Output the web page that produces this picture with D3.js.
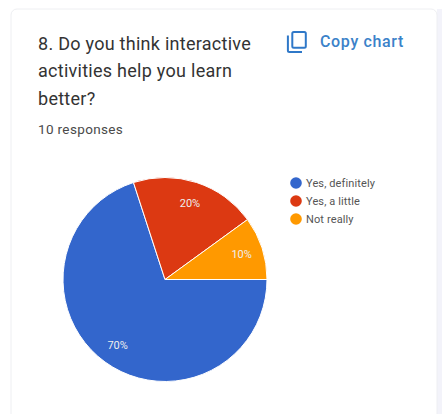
<!DOCTYPE html>
<html>
<head>
<meta charset="utf-8">
<script src="https://cdn.jsdelivr.net/npm/d3@7/dist/d3.min.js"></script>
<style>
html, body { margin: 0; padding: 0; background: #ffffff; }
svg { display: block; }
</style>
</head>
<body>
<svg id="chart" width="442" height="414"></svg>
<script>
const categories = ["Yes, definitely", "Yes, a little", "Not really"];
const seriesValues = [70, 20, 10];
const sliceLabels = ["70%", "20%", "10%"];
const sliceColors = ["#3366cc", "#dc3912", "#ff9900"];
const titleLines = ["8. Do you think interactive", "activities help you learn", "better?"];
const responsesText = "10 responses";
const copyText = "Copy chart";

const svg = d3.select("#chart");
const font = "Roboto, sans-serif";

// Page strip beside the card
svg.append("rect")
  .attr("x", 437).attr("y", 9).attr("width", 5).attr("height", 405)
  .attr("fill", "#f3f3fa");

// Card
svg.append("rect")
  .attr("x", 11).attr("y", 9).attr("width", 426).attr("height", 430)
  .attr("rx", 6)
  .attr("fill", "#ffffff").attr("stroke", "#eeeff2").attr("stroke-width", 1);

// Heading
svg.append("g").selectAll("text").data(titleLines).join("text")
  .attr("x", 38)
  .attr("y", (d, i) => 50 + i * 27.4)
  .attr("font-family", font).attr("font-size", 18).attr("letter-spacing", 0.27)
  .attr("fill", "#333333")
  .text(d => d);

svg.append("text")
  .attr("x", 38).attr("y", 134)
  .attr("font-family", font).attr("font-size", 13.5).attr("letter-spacing", 0.35)
  .attr("fill", "#4a4a4a")
  .text(responsesText);

// Copy button
const copy = svg.append("g").attr("transform", "translate(287,31)");
copy.append("path")
  .attr("d", "M0.9 4.5 V19.5 Q0.9 21 2.4 21 H15")
  .attr("fill", "none").attr("stroke", "#2f78c8").attr("stroke-width", 2);
copy.append("rect")
  .attr("x", 5.3).attr("y", 0.9).attr("width", 13.5).attr("height", 15.8).attr("rx", 1.5)
  .attr("fill", "none").attr("stroke", "#2f78c8").attr("stroke-width", 2);
svg.append("text")
  .attr("x", 320).attr("y", 46.5)
  .attr("font-family", font).attr("font-size", 16).attr("font-weight", 500).attr("letter-spacing", 0.65)
  .attr("fill", "#3b82c9")
  .text(copyText);

// Pie
const cx = 165, cy = 279.5, radius = 102;
const pie = d3.pie().sort(null).startAngle(Math.PI / 2).endAngle(Math.PI / 2 + 2 * Math.PI);
const arcs = pie(seriesValues);
const arc = d3.arc().innerRadius(0).outerRadius(radius);
const labelArc = d3.arc().innerRadius(radius * 0.79).outerRadius(radius * 0.79);

const plot = svg.append("g").attr("transform", `translate(${cx},${cy})`);
plot.selectAll("path").data(arcs).join("path")
  .attr("d", arc)
  .attr("fill", (d, i) => sliceColors[i])
  .attr("stroke", "#ffffff").attr("stroke-width", 1);

plot.selectAll("text").data(arcs).join("text")
  .attr("transform", d => `translate(${labelArc.centroid(d)})`)
  .attr("text-anchor", "middle").attr("dy", "0.35em")
  .attr("font-family", font).attr("font-size", 11)
  .attr("fill", "#eeeeee")
  .text((d, i) => sliceLabels[i]);

// Legend
const legendY = d3.scalePoint().domain(categories).range([183, 219]);
const legend = svg.append("g").selectAll("g").data(categories).join("g")
  .attr("transform", d => `translate(0,${legendY(d)})`);
legend.append("circle")
  .attr("cx", 296).attr("r", 5.8)
  .attr("fill", (d, i) => sliceColors[i]);
legend.append("text")
  .attr("x", 306).attr("dy", "0.35em")
  .attr("font-family", font).attr("font-size", 11).attr("letter-spacing", 0.12)
  .attr("fill", "#555555")
  .text(d => d);
</script>
</body>
</html>
